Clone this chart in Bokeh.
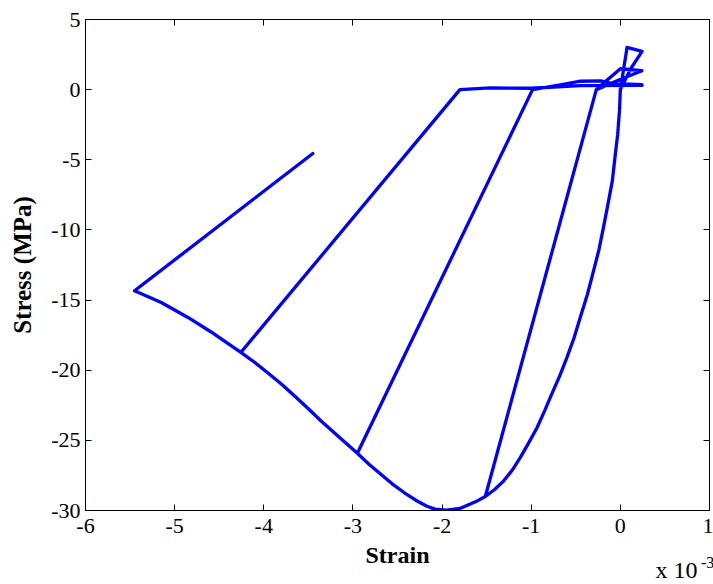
from bokeh.plotting import figure
from bokeh.models import LinearAxis, FixedTicker, Range1d, Label, CustomJSTickFormatter
from bokeh.embed import file_html
from bokeh.resources import INLINE

# Strain in units of 1e-3, stress in MPa, in loading order
tension1_strain = [0.0, 0.075, 0.243, 0.11, 0.0]
tension1_stress = [0.0, 3.01, 2.73, 1.42, 0.0]

envelope1_strain = [-0.01, -0.03, -0.06, -0.09, -0.14, -0.19, -0.24, -0.30, -0.37, -0.45, -0.52,
                    -0.60, -0.68, -0.77, -0.85, -0.935, -1.03, -1.12, -1.21, -1.31, -1.41, -1.515]
envelope1_stress = [-1.5, -3.19, -4.8, -6.5, -8.2, -9.84, -11.4, -12.9, -14.6, -16.25, -17.7,
                    -19.1, -20.4, -21.7, -22.9, -24.1, -25.2, -26.2, -27.1, -27.9, -28.5, -29.0]

cycle1_strain = [-0.27, -0.187, 0.0, 0.243, 0.037, -0.27, -1.515]
cycle1_stress = [0.0, 0.47, 1.49, 1.35, 0.83, 0.0, -29.0]

envelope2_strain = [-1.6, -1.69, -1.8, -1.95, -2.08, -2.17, -2.3, -2.43, -2.56, -2.69, -2.82, -2.95]
envelope2_stress = [-29.3, -29.55, -29.85, -29.97, -29.9, -29.7, -29.25, -28.7, -28.1, -27.4, -26.7, -25.92]

cycle2_strain = [-0.985, -0.64, -0.45, -0.22, -0.1, 0.243, -0.1, -0.22, -0.45, -0.64, -0.985, -2.95]
cycle2_stress = [0.0, 0.37, 0.6, 0.62, 0.45, 0.35, 0.45, 0.62, 0.6, 0.37, 0.0, -25.92]

envelope3_strain = [-3.15, -3.36, -3.5, -3.66, -3.8, -3.96, -4.1, -4.257]
envelope3_stress = [-24.8, -23.6, -22.75, -21.8, -21.0, -20.16, -19.45, -18.73]

cycle3_strain = [-1.8, -1.46, -1.0, -0.45, 0.243, -0.45, -1.0, -1.46, -1.8, -4.257]
cycle3_stress = [0.0, 0.12, 0.1, 0.28, 0.3, 0.28, 0.1, 0.12, 0.0, -18.73]

envelope4_strain = [-4.555, -4.85, -5.15, -5.45]
envelope4_stress = [-17.42, -16.24, -15.17, -14.34]

final_strain = [-3.45]
final_stress = [-4.55]

x_ticks = [-6, -5, -4, -3, -2, -1, 0, 1]
y_ticks = [-30, -25, -20, -15, -10, -5, 0, 5]

strain = (tension1_strain + envelope1_strain + cycle1_strain + envelope2_strain +
          cycle2_strain + envelope3_strain + cycle3_strain + envelope4_strain + final_strain)
stress = (tension1_stress + envelope1_stress + cycle1_stress + envelope2_stress +
          cycle2_stress + envelope3_stress + cycle3_stress + envelope4_stress + final_stress)

FONT = "Liberation Serif"
SHIFT = 33  # top panel holds the exponent labels; shift the canvas up by this much

p = figure(width=713, height=584 + SHIFT, x_range=Range1d(-6, 1), y_range=Range1d(-30, 5),
           toolbar_location=None, output_backend="svg",
           min_border_left=85, min_border_right=4, min_border_top=19 + SHIFT, min_border_bottom=74,
           styles={"margin-top": f"-{SHIFT}px"})
p.grid.visible = False
p.outline_line_color = "black"
p.outline_line_width = 1
p.background_fill_color = "white"
p.border_fill_color = "white"

p.line(strain, stress, line_color="#0000ff", line_width=3.3, line_join="round", line_cap="round")

plain = CustomJSTickFormatter(code="return tick.toString()")
p.xaxis.ticker = FixedTicker(ticks=x_ticks)
p.yaxis.ticker = FixedTicker(ticks=y_ticks)
for ax in (p.xaxis[0], p.yaxis[0]):
    ax.formatter = plain
    ax.major_tick_in = 6
    ax.major_tick_out = 0
    ax.minor_tick_in = 0
    ax.minor_tick_out = 0
    ax.axis_line_color = "black"
    ax.major_tick_line_color = "black"
    ax.major_label_text_font = FONT
    ax.major_label_text_font_size = "22px"
    ax.major_label_text_color = "black"
    ax.axis_label_text_font = FONT
    ax.axis_label_text_font_size = "24px"
    ax.axis_label_text_font_style = "bold"
    ax.axis_label_text_color = "black"
p.xaxis.axis_label = "Strain"
p.yaxis.axis_label = "Stress (MPa)"
p.yaxis.axis_label_text_font_size = "25px"
p.xaxis.major_label_standoff = 8
p.xaxis.axis_label_standoff = 6
p.yaxis.major_label_standoff = 5
p.yaxis.axis_label_standoff = 12

blank = CustomJSTickFormatter(code="return ''")
top = LinearAxis(ticker=FixedTicker(ticks=x_ticks), formatter=blank, major_tick_in=6, major_tick_out=0,
                 minor_tick_in=0, minor_tick_out=0, major_label_standoff=0, axis_line_color="black")
right = LinearAxis(ticker=FixedTicker(ticks=y_ticks), formatter=blank, major_tick_in=6, major_tick_out=0,
                   minor_tick_in=0, minor_tick_out=0, major_label_standoff=0, axis_line_color="black")
p.add_layout(top, "above")
p.add_layout(right, "right")

# exponent label, drawn in data space below the frame (side panels are not clipped)
p.add_layout(Label(x=0.394, y=-34.27, text="x 10", text_font=FONT, text_font_size="24px",
                   text_color="black", text_baseline="alphabetic", text_align="left"), "above")
p.add_layout(Label(x=0.905, y=-33.72, text="-3", text_font=FONT, text_font_size="16px",
                   text_color="black", text_baseline="alphabetic", text_align="left"), "above")

open("out.html", "w").write(file_html(p, INLINE))
